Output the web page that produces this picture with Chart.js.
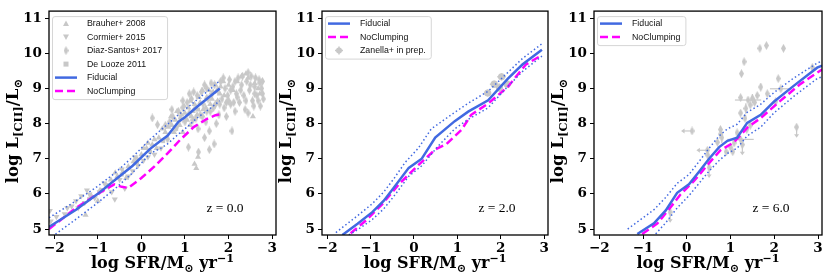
<!DOCTYPE html>
<html>
<head>
<meta charset="utf-8">
<script src="https://cdn.jsdelivr.net/npm/chart.js@4/dist/chart.umd.min.js"></script>
<style>
  body { margin: 0; background: #fff; width: 830px; height: 277px; position: relative; overflow: hidden; }
  canvas { position: absolute; top: 0; }
</style>
</head>
<body>
<canvas id="c1" width="280" height="277" style="left:0px"></canvas>
<canvas id="c2" width="280" height="277" style="left:275px"></canvas>
<canvas id="c3" width="282" height="277" style="left:548px"></canvas>
<script>
// ticks
const xTicks = [-2, -1, 0, 1, 2, 3];
const yTicks = [5, 6, 7, 8, 9, 10, 11];

// z = 0 : model lines [log SFR, log L]
const fid0 = [[-2.12,5.06],[-1.5,5.55],[-1.0,6.0],[-0.6,6.4],[-0.2,6.8],[0.2,7.28],[0.45,7.52],[0.6,7.65],[0.85,8.05],[1.0,8.18],[1.3,8.5],[1.6,8.8],[1.8,9.0]];
const hi0 = [[-2.12,5.32],[-1.5,5.8],[-1.0,6.22],[-0.6,6.6],[-0.2,7.05],[0.2,7.55],[0.45,7.82],[0.6,7.98],[0.85,8.25],[1.0,8.4],[1.3,8.7],[1.6,9.0],[1.8,9.22]];
const lo0 = [[-2.12,4.72],[-1.5,5.28],[-1.0,5.75],[-0.6,6.15],[-0.2,6.6],[0.2,7.15],[0.45,7.3],[0.6,7.42],[0.85,7.7],[1.0,7.85],[1.3,8.18],[1.6,8.45],[1.8,8.65]];
const nc0 = [[-2.12,5.0],[-1.5,5.6],[-1.0,6.0],[-0.8,6.15],[-0.62,6.27],[-0.45,6.2],[-0.3,6.17],[0.0,6.45],[0.3,6.78],[0.6,7.15],[0.9,7.55],[1.2,7.9],[1.5,8.13],[1.7,8.24],[1.8,8.26]];

// z = 0 : observations
const brauher = [[-1.28,5.4],[-1.15,5.95],[-0.95,6.1],[-0.8,6.2],[-0.55,6.5],[-0.42,6.62],[-0.3,6.78],[-0.18,6.92],[0.0,7.12],[0.12,7.3],[0.25,7.4],[0.4,7.6],[0.55,7.75],[0.62,7.9],[0.7,7.95],[0.78,8.1],[0.85,8.0],[0.92,8.25],[1.0,8.3],[1.08,8.45],[1.15,8.2],[1.22,8.55],[1.22,6.85],[1.26,6.73],[1.3,7.05],[1.35,8.6],[1.42,8.4],[1.5,8.75],[1.58,8.55],[1.65,8.9],[1.75,8.65],[1.82,9.05],[1.9,8.8],[2.0,9.1],[2.1,8.95],[2.2,9.2],[2.3,9.35],[2.4,9.42],[2.45,9.3],[2.56,8.2],[2.6,9.15],[2.68,9.0],[2.72,8.85],[1.12,7.95],[0.95,7.75],
  [0.05,7.3],[0.15,7.45],[0.3,7.55],[0.35,7.3],[0.48,7.85],[0.58,7.6],[0.68,8.2],[0.75,7.75],[0.82,8.35],[0.88,7.95],[0.98,8.5],[1.05,8.1],[1.12,8.65],[1.18,8.35],[1.28,8.25],[1.32,8.75],[1.4,8.95],[1.48,8.45],[1.55,8.95],[1.62,8.7],[1.7,9.1],[1.8,8.85],[1.88,9.2],[-0.6,6.6],[-0.35,6.45],[-0.1,7.0],[-1.0,5.8],[-0.7,6.4]];
const cormier = [[-2.1,5.52],[-2.08,5.22],[-1.95,5.35],[-1.76,5.43],[-1.6,5.65],[-1.5,5.8],[-1.38,5.94],[-1.3,5.75],[-1.19,5.99],[-1.07,5.88],[-0.96,6.05],[-0.88,6.12],[-0.75,6.2],[-0.68,6.05],[-0.61,5.85],[-0.5,6.4],[-0.38,6.15],[-0.3,6.5],[-0.2,6.65],[-0.08,6.8],[0.05,6.95],[0.15,7.05],[0.3,7.12],[0.45,7.3],[-1.45,5.6],[-1.7,5.6],[-1.25,6.1],[-0.85,6.3],[-0.45,6.7],[-0.15,7.05]];
const diazSantos = [[0.25,8.16],[0.37,7.97],[0.6,7.56],[0.55,7.95],[0.65,8.05],[0.72,8.2],[0.8,7.9],[0.85,8.35],[0.9,8.15],[0.95,8.45],[1.0,8.05],[1.05,8.6],[1.08,7.33],[1.1,8.3],[1.15,8.7],[1.18,8.1],[1.25,8.45],[1.28,8.8],[1.31,7.19],[1.35,8.25],[1.38,8.9],[1.42,8.55],[1.48,8.05],[1.5,9.0],[1.53,8.7],[1.56,7.26],[1.56,7.79],[1.58,8.35],[1.62,8.85],[1.67,7.42],[1.68,9.1],[1.7,8.55],[1.75,8.95],[1.78,8.25],[1.82,9.2],[1.85,8.7],[1.9,8.45],[1.92,9.0],[1.98,8.8],[2.02,9.25],[2.05,8.55],[2.08,7.79],[2.1,9.05],[2.15,8.35],[2.18,8.85],[2.22,9.3],[2.25,8.6],[2.3,9.1],[2.35,8.8],[2.38,8.4],[2.42,9.2],[2.48,8.95],[2.52,9.35],[2.55,8.65],[2.6,9.05],[2.65,8.8],[2.7,9.25],[2.73,8.5],[2.76,9.0],[2.78,8.85],[2.45,8.3],[1.72,8.0],[1.3,7.85],[1.45,7.6],[1.95,8.2],
  [0.7,8.4],[0.95,8.65],[1.1,8.85],[1.2,8.9],[1.45,9.1],[1.6,9.15],[1.88,9.3],[2.0,8.65],[2.12,8.6],[2.28,8.95],[2.32,9.35],[2.4,8.65],[2.5,9.1],[2.58,8.5],[2.62,9.3],[2.68,8.65],[2.72,9.15],[2.78,9.2],[2.8,8.7],[2.2,8.75],[2.05,8.95],[1.95,8.6],[1.8,8.55],[1.65,8.45],[1.5,8.35],[1.4,8.2],[1.25,8.15],[2.6,8.85],[2.45,9.45],[2.15,9.2]];
const deLooze = [[-0.45,6.55],[-0.1,6.9],[0.2,7.2],[0.5,7.5],[0.8,7.85],[1.0,8.1],[1.3,8.4],[-1.2,5.85],[-0.8,6.25]];

// z = 2
const fid2 = [[-1.65,4.83],[-1.3,5.15],[-0.96,5.48],[-0.7,5.8],[-0.47,6.17],[-0.12,6.74],[0.18,7.0],[0.49,7.6],[0.94,8.07],[1.25,8.34],[1.71,8.66],[2.16,9.27],[2.5,9.68],[2.95,10.1]];
const hi2 = [[-1.8,4.9],[-1.3,5.38],[-0.96,5.72],[-0.7,6.05],[-0.47,6.42],[-0.2,6.9],[0.1,7.3],[0.4,7.85],[0.94,8.32],[1.25,8.58],[1.71,8.92],[2.16,9.45],[2.5,9.85],[2.95,10.27]];
const lo2 = [[-1.5,4.83],[-1.3,4.98],[-0.96,5.27],[-0.7,5.57],[-0.47,5.92],[-0.12,6.5],[0.18,6.8],[0.55,7.35],[0.94,7.85],[1.25,8.12],[1.71,8.45],[2.16,9.05],[2.5,9.48],[2.95,9.92]];
const nc2 = [[-1.46,4.88],[-1.1,5.25],[-0.73,5.71],[-0.35,6.27],[0.1,6.82],[0.49,7.26],[0.75,7.42],[1.1,7.83],[1.32,8.25],[1.71,8.57],[2.16,9.04],[2.58,9.68],[2.95,9.95]];
// [log SFR, log L, err SFR, err L]
const zanella = [[1.7,8.87,0.08,0.1],[1.85,9.12,0.1,0.1],[1.97,9.02,0.08,0.12],[2.02,9.33,0.1,0.1],[2.15,9.12,0.08,0.1]];

// z = 6
const fid6 = [[-1.13,4.86],[-0.75,5.16],[-0.48,5.53],[-0.22,6.03],[0.05,6.27],[0.28,6.63],[0.51,7.0],[0.74,7.33],[0.93,7.51],[1.15,7.6],[1.38,8.02],[1.69,8.25],[1.99,8.62],[2.45,9.08],[2.98,9.59],[3.09,9.65]];
const hi6 = [[-1.35,5.0],[-0.75,5.55],[-0.48,5.9],[-0.22,6.3],[0.05,6.55],[0.28,6.92],[0.51,7.3],[0.74,7.65],[0.93,7.85],[1.15,7.98],[1.38,8.32],[1.69,8.55],[1.99,8.88],[2.45,9.3],[2.98,9.72],[3.09,9.78]];
const lo6 = [[-0.71,4.86],[-0.48,5.18],[-0.22,5.6],[0.05,5.95],[0.28,6.3],[0.51,6.65],[0.74,6.95],[0.93,7.15],[1.15,7.3],[1.38,7.65],[1.69,7.9],[1.99,8.3],[2.45,8.78],[2.98,9.28],[3.09,9.33]];
const nc6 = [[-1.02,4.86],[-0.67,5.16],[-0.37,5.62],[-0.14,5.99],[0.16,6.36],[0.47,6.82],[0.77,7.24],[1.08,7.47],[1.38,7.88],[1.69,8.16],[2.15,8.66],[2.6,9.13],[3.09,9.54]];
// [log SFR, log L, err SFR, err L, limit: 0 none, 1 SFR upper limit, 2 L upper limit]
const obs6 = [[1.67,10.14,0,0,0],[1.82,10.22,0,0,0],[2.21,10.14,0,0,0],[1.31,9.76,0,0,0],[1.25,9.42,0,0,0],[2.09,9.28,0,0,0],[1.69,9.04,0,0.1,0],[2.15,8.99,0.25,0,0],[1.61,8.8,0,0,0],[1.5,8.72,0,0.12,0],[1.23,8.74,0,0,0],[1.4,8.67,0.3,0,0],[1.45,8.53,0,0,0],[1.35,8.43,0,0.15,0],[1.55,8.6,0,0,0],[1.84,8.85,0,0,0],[2.03,8.62,0,0,0],[1.23,8.3,0,0,0],[1.33,8.15,0,0,0],[0.77,7.83,0,0.1,0],[0.78,7.7,0,0,0],[0.8,7.6,0,0.15,0],[0.12,7.79,0,0,1],[0.47,7.24,0,0,1],[0.48,7.1,0,0,0],[0.51,6.96,0,0,0],[0.51,6.75,0,0,2],[1.0,7.33,0,0,0],[1.08,7.45,0,0,0],[1.15,7.74,0,0,0],[1.23,7.55,0.3,0,0],[1.27,7.4,0,0,2],[1.37,7.83,0,0,0],[1.45,7.95,0,0,0],[0.7,7.47,0,0,0],[0.9,7.2,0,0,0],[1.05,7.2,0,0,0],[2.51,7.9,0,0,2],[2.87,9.6,0,0,0],[-0.38,5.48,0,0,2]];

const GRAY = '#c8c8c8', BLUE = '#4169e1', MAG = '#ff00ff';

const diamond = (function () {
  var c = document.createElement('canvas');
  c.width = 5; c.height = 9;
  var g = c.getContext('2d');
  g.fillStyle = GRAY;
  g.beginPath(); g.moveTo(2.5, 0); g.lineTo(5, 4.5); g.lineTo(2.5, 9); g.lineTo(0, 4.5); g.closePath(); g.fill();
  return c;
})();

function pts(arr) { return arr.map(p => ({ x: p[0], y: p[1] })); }

function fidLine(arr) { return { data: pts(arr), showLine: true, borderColor: BLUE, borderWidth: 2.5, pointRadius: 0 }; }
function dotLine(arr) { return { data: pts(arr), showLine: true, borderColor: BLUE, borderWidth: 1.5, borderDash: [1.5, 2.5], pointRadius: 0 }; }
function ncLine(arr) { return { data: pts(arr), showLine: true, borderColor: MAG, borderWidth: 2.5, borderDash: [8, 4], pointRadius: 0 }; }
function marks(arr, style, r, rot) {
  return { data: pts(arr), showLine: false, pointStyle: style, pointRadius: r, pointRotation: rot || 0,
    backgroundColor: GRAY, borderColor: GRAY, pointBorderWidth: 0 };
}

const serif = '"DejaVu Serif", "Liberation Serif", serif';
const zSerif = '"Liberation Serif", serif';
const sans = '"Liberation Sans", "DejaVu Sans", sans-serif';

const xTitle = [['log SFR/M', 0], ['\u2299', 1], [' yr', 0], ['\u22121', 2]];
const yTitle = [['log L', 0], ['[CII]', 1], ['/L', 0], ['\u2299', 1]];

function rich(ctx, segs, cx, y, size) {
  var parts = segs.map(function (s) {
    var sz = s[1] ? size * 0.7 : size;
    ctx.font = 'bold ' + sz + 'px ' + serif;
    return { t: s[0], k: s[1], sz: sz, w: ctx.measureText(s[0]).width };
  });
  var x = cx - parts.reduce((m, p) => m + p.w, 0) / 2;
  ctx.textAlign = 'left';
  ctx.textBaseline = 'alphabetic';
  parts.forEach(function (p) {
    ctx.font = 'bold ' + p.sz + 'px ' + serif;
    var dy = p.k === 1 ? size * 0.22 : (p.k === 2 ? -size * 0.4 : 0);
    ctx.fillText(p.t, x, y + dy);
    x += p.w;
  });
}

function errCross(ctx, x, y, hw, hh) {
  ctx.beginPath();
  ctx.moveTo(x - hw, y); ctx.lineTo(x + hw, y);
  ctx.moveTo(x, y - hh); ctx.lineTo(x, y + hh);
  ctx.stroke();
}

function legendMark(ctx, kind, x0, cy) {
  var xm = x0 + 11;
  ctx.save();
  ctx.fillStyle = GRAY; ctx.strokeStyle = GRAY;
  if (kind === 'line' || kind === 'dash') {
    ctx.strokeStyle = kind === 'line' ? BLUE : MAG;
    ctx.lineWidth = 2.5;
    ctx.setLineDash(kind === 'line' ? [] : [8, 4]);
    ctx.beginPath(); ctx.moveTo(x0, cy); ctx.lineTo(x0 + 22, cy); ctx.stroke();
  } else if (kind === 'tri' || kind === 'trid') {
    var s = kind === 'tri' ? 1 : -1;
    ctx.beginPath(); ctx.moveTo(xm, cy - 3 * s); ctx.lineTo(xm + 3, cy + 2.5 * s); ctx.lineTo(xm - 3, cy + 2.5 * s); ctx.closePath(); ctx.fill();
  } else if (kind === 'diam') {
    ctx.drawImage(diamond, xm - 2.5, cy - 4.5);
  } else if (kind === 'sq') {
    ctx.fillRect(xm - 2.5, cy - 2.5, 5, 5);
  } else if (kind === 'err') {
    ctx.lineWidth = 1.5;
    errCross(ctx, xm, cy, 4, 4);
    ctx.beginPath(); ctx.arc(xm, cy, 3, 0, Math.PI * 2); ctx.fill();
  }
  ctx.restore();
}

function drawLegend(ctx, a, items) {
  var left = a.left + 3, top = a.top + 5, rowH = 13.5;
  ctx.save();
  ctx.font = '8.8px ' + sans;
  var tw = Math.max.apply(null, items.map(it => ctx.measureText(it[0]).width));
  var w = 35 + tw + 5, h = items.length * rowH + 2;
  ctx.beginPath();
  ctx.roundRect(left + 0.5, top + 0.5, w, h, 2.5);
  ctx.fillStyle = 'rgba(255,255,255,0.8)'; ctx.fill();
  ctx.strokeStyle = '#d6d6d6'; ctx.lineWidth = 1; ctx.stroke();
  items.forEach(function (it, i) {
    var cy = top + 7.5 + i * rowH;
    legendMark(ctx, it[1], left + 3, cy);
    ctx.fillStyle = '#111'; ctx.textAlign = 'left'; ctx.textBaseline = 'middle';
    ctx.font = '8.8px ' + sans;
    ctx.fillText(it[0], left + 35, cy);
  });
  ctx.restore();
}

function decor(cfg) {
  return {
    id: 'decor',
    beforeDatasetsDraw(chart) {
      if (cfg.extra) {
        var ctx = chart.ctx, a = chart.chartArea;
        ctx.save();
        ctx.beginPath(); ctx.rect(a.left, a.top, a.right - a.left, a.bottom - a.top); ctx.clip();
        cfg.extra(ctx, chart.scales.x, chart.scales.y);
        ctx.restore();
      }
    },
    afterDraw(chart) {
      var ctx = chart.ctx, a = chart.chartArea;
      ctx.save();
      ctx.strokeStyle = '#000'; ctx.lineWidth = 1.3;
      ctx.strokeRect(a.left, a.top, a.right - a.left, a.bottom - a.top);
      ctx.fillStyle = '#000';
      ctx.font = '13.5px ' + zSerif; ctx.textAlign = 'center'; ctx.textBaseline = 'middle';
      ctx.fillText(cfg.z, a.right - 51, a.bottom - 27);
      rich(ctx, xTitle, (a.left + a.right) / 2, 268, 16);
      ctx.translate(a.left - 31, (a.top + a.bottom) / 2 + 8);
      ctx.rotate(-Math.PI / 2);
      rich(ctx, yTitle, 0, 0, 16.5);
      ctx.restore();
      drawLegend(ctx, a, cfg.legend);
    }
  };
}

function makeChart(id, datasets, yW, padR, cfg) {
  var tickFont = { family: serif, weight: 'bold', size: 13.5 };
  var grid = { display: true, drawOnChartArea: false, drawTicks: true, tickLength: 4, color: '#000', lineWidth: 1 };
  return new Chart(document.getElementById(id), {
    type: 'scatter',
    data: { datasets: datasets },
    options: {
      responsive: false, animation: false,
      layout: { padding: { top: 5, right: padR, left: 0, bottom: 0 } },
      plugins: { legend: { display: false }, tooltip: { enabled: false } },
      scales: {
        x: {
          type: 'linear', min: -2.12, max: 3.09,
          afterBuildTicks: s => { s.ticks = xTicks.map(v => ({ value: v })); },
          afterFit: s => { s.height = 42; },
          grid: grid, border: { display: false },
          ticks: { font: tickFont, color: '#000', padding: 1, autoSkip: false, maxRotation: 0,
            callback: v => String(v).replace('-', '\u2212') }
        },
        y: {
          type: 'linear', min: 4.83, max: 11.2,
          afterBuildTicks: s => { s.ticks = yTicks.map(v => ({ value: v })); },
          afterFit: s => { s.width = yW; },
          grid: grid, border: { display: false },
          ticks: { font: tickFont, color: '#000', padding: 3, autoSkip: false }
        }
      }
    },
    plugins: [decor(cfg)]
  });
}

// panel z = 0
makeChart('c1', [
  fidLine(fid0), dotLine(hi0), dotLine(lo0), ncLine(nc0),
  marks(brauher, 'triangle', 3.5), marks(cormier, 'triangle', 3.5, 180),
  marks(diazSantos, diamond, 3), marks(deLooze, 'rect', 2.8)
], 49, 3, {
  z: 'z = 0.0',
  legend: [['Brauher+ 2008', 'tri'], ['Cormier+ 2015', 'trid'], ['Diaz-Santos+ 2017', 'diam'], ['De Looze 2011', 'sq'], ['Fiducial', 'line'], ['NoClumping', 'dash']]
});

// panel z = 2
makeChart('c2', [
  fidLine(fid2), dotLine(hi2), dotLine(lo2), ncLine(nc2),
  marks(zanella, 'circle', 3.6)
], 47, 7, {
  z: 'z = 2.0',
  legend: [['Fiducial', 'line'], ['NoClumping', 'dash'], ['Zanella+ in prep.', 'err']],
  extra: function (ctx, xs, ys) {
    ctx.strokeStyle = GRAY; ctx.lineWidth = 1.5;
    zanella.forEach(function (p) {
      ctx.beginPath();
      ctx.moveTo(xs.getPixelForValue(p[0] - p[2]), ys.getPixelForValue(p[1]));
      ctx.lineTo(xs.getPixelForValue(p[0] + p[2]), ys.getPixelForValue(p[1]));
      ctx.moveTo(xs.getPixelForValue(p[0]), ys.getPixelForValue(p[1] - p[3]));
      ctx.lineTo(xs.getPixelForValue(p[0]), ys.getPixelForValue(p[1] + p[3]));
      ctx.stroke();
    });
  }
});

// panel z = 6
makeChart('c3', [
  fidLine(fid6), dotLine(hi6), dotLine(lo6), ncLine(nc6),
  marks(obs6, diamond, 3)
], 46, 8, {
  z: 'z = 6.0',
  legend: [['Fiducial', 'line'], ['NoClumping', 'dash']],
  extra: function (ctx, xs, ys) {
    ctx.strokeStyle = GRAY; ctx.fillStyle = GRAY; ctx.lineWidth = 1.2;
    obs6.forEach(function (p) {
      var px = xs.getPixelForValue(p[0]), py = ys.getPixelForValue(p[1]);
      ctx.beginPath();
      if (p[2]) { ctx.moveTo(xs.getPixelForValue(p[0] - p[2]), py); ctx.lineTo(xs.getPixelForValue(p[0] + p[2]), py); }
      if (p[3]) { ctx.moveTo(px, ys.getPixelForValue(p[1] - p[3])); ctx.lineTo(px, ys.getPixelForValue(p[1] + p[3])); }
      ctx.stroke();
      if (p[4] === 1) {
        var ex = xs.getPixelForValue(p[0] - 0.25);
        ctx.beginPath(); ctx.moveTo(px, py); ctx.lineTo(ex + 2, py); ctx.stroke();
        ctx.beginPath(); ctx.moveTo(ex, py); ctx.lineTo(ex + 3.5, py - 2.5); ctx.lineTo(ex + 3.5, py + 2.5); ctx.closePath(); ctx.fill();
      } else if (p[4] === 2) {
        var ey = ys.getPixelForValue(p[1] - 0.3);
        ctx.beginPath(); ctx.moveTo(px, py); ctx.lineTo(px, ey - 2); ctx.stroke();
        ctx.beginPath(); ctx.moveTo(px, ey); ctx.lineTo(px - 2.5, ey - 3.5); ctx.lineTo(px + 2.5, ey - 3.5); ctx.closePath(); ctx.fill();
      }
    });
  }
});
</script>
</body>
</html>
